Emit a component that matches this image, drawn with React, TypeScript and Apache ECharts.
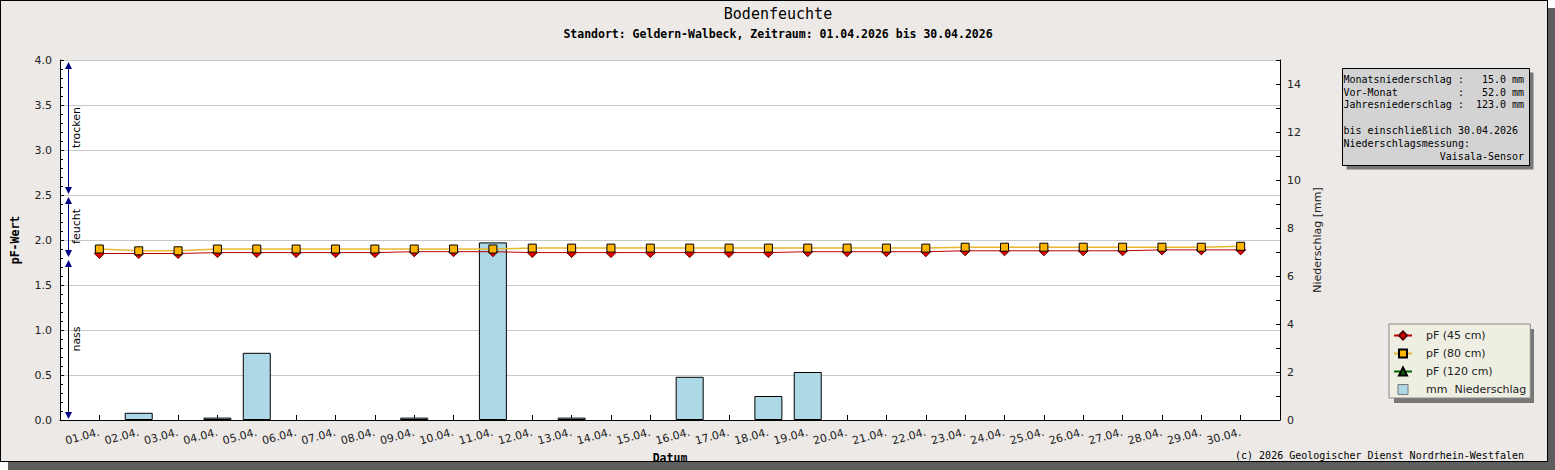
import React, { useEffect, useRef } from "react";
import * as echarts from "echarts";

const dates = [
  "01.04.", "02.04.", "03.04.", "04.04.", "05.04.", "06.04.", "07.04.", "08.04.", "09.04.", "10.04.",
  "11.04.", "12.04.", "13.04.", "14.04.", "15.04.", "16.04.", "17.04.", "18.04.", "19.04.", "20.04.",
  "21.04.", "22.04.", "23.04.", "24.04.", "25.04.", "26.04.", "27.04.", "28.04.", "29.04.", "30.04.",
];
const pf45 = [
  1.85, 1.85, 1.85, 1.86, 1.86, 1.86, 1.86, 1.86, 1.87, 1.87,
  1.87, 1.86, 1.86, 1.86, 1.86, 1.86, 1.86, 1.86, 1.87, 1.87,
  1.87, 1.87, 1.88, 1.88, 1.88, 1.88, 1.88, 1.89, 1.89, 1.89,
];
const pf80 = [
  1.9, 1.88, 1.88, 1.9, 1.9, 1.9, 1.9, 1.9, 1.9, 1.9,
  1.9, 1.91, 1.91, 1.91, 1.91, 1.91, 1.91, 1.91, 1.91, 1.91,
  1.91, 1.91, 1.92, 1.92, 1.92, 1.92, 1.92, 1.92, 1.92, 1.93,
];
const pf120: number[] = [];
const precip = [
  0, 0.3, 0, 0.1, 2.8, 0, 0, 0, 0.1, 0,
  7.4, 0, 0.1, 0, 0, 1.8, 0, 1.0, 2.0, 0,
  0, 0, 0, 0, 0, 0, 0, 0, 0, 0,
];
const pfTicks = { min: 0, max: 4, interval: 0.5 };
const mmTicks = { min: 0, max: 15, interval: 1 };
const zones = [
  { name: "trocken", from: 4.0, to: 2.5, line: "#000080" },
  { name: "feucht", from: 2.5, to: 1.8, line: "#000080" },
  { name: "nass", from: 1.8, to: 0, line: "#000000" },
];
const monatsNiederschlag = 15.0;
const vorMonat = 52.0;
const jahresNiederschlag = 123.0;
const bisDatum = "30.04.2026";
const title = "Bodenfeuchte";
const subtitle = "Standort: Geldern-Walbeck, Zeitraum: 01.04.2026 bis 30.04.2026";
const copyright = "(c) 2026 Geologischer Dienst Nordrhein-Westfalen";

const MONO = '"DejaVu Sans Mono", "Liberation Mono", monospace';
const SANS = '"DejaVu Sans", sans-serif';

export default function App() {
  const ref = useRef<HTMLDivElement>(null);
  useEffect(() => {
    document.body.style.margin = "0";
    const chart = echarts.init(ref.current!, null, { renderer: "svg" });
    const cats = ["", ...dates, ""];
    const pad = (a: (number | null)[]) => [null, ...a, null];
    const option: any = {
      animation: false,
      backgroundColor: "transparent",
      title: [
        {
          text: title, left: 778, top: 6, textAlign: "center", padding: 0,
          textStyle: { fontFamily: MONO, fontSize: 15, fontWeight: "normal", color: "#000" },
        },
        {
          text: subtitle, left: 778, top: 28, textAlign: "center", padding: 0,
          textStyle: { fontFamily: MONO, fontSize: 11.5, fontWeight: "bold", color: "#000" },
        },
      ],
      grid: {
        left: 60, top: 60, width: 1220, height: 360, show: true,
        backgroundColor: "#ffffff", borderWidth: 0, containLabel: false,
      },
      legend: {
        orient: "vertical", left: 1389, top: 324, z: 10,
        backgroundColor: "#eeeee2", borderColor: "#8a8a8a", borderWidth: 1,
        padding: [6, 4, 3, 4], itemWidth: 18, itemHeight: 10, itemGap: 7,
        selectedMode: false,
        textStyle: { fontFamily: SANS, fontSize: 11, color: "#222", padding: [0, 0, 0, 9] },
        data: [
          "pF (45 cm)", "pF (80 cm)", "pF (120 cm)",
          {
            name: "mm  Niederschlag", icon: "path://M0 0H10V10H0Z",
            itemStyle: { color: "#add8e6", borderColor: "#777", borderWidth: 1 },
          },
        ],
      },
      xAxis: {
        type: "category", data: cats, boundaryGap: false,
        name: "Datum", nameLocation: "middle", nameGap: 31,
        nameTextStyle: { fontFamily: MONO, fontSize: 11.5, fontWeight: "bold", color: "#000" },
        axisLine: { lineStyle: { color: "#000", width: 1 } },
        axisTick: { inside: true, length: 5, interval: 0, lineStyle: { color: "#000" } },
        axisLabel: { interval: 0, rotate: 15, margin: 12, fontFamily: SANS, fontSize: 11, color: "#222" },
        splitLine: { show: false },
      },
      yAxis: [
        {
          type: "value", position: "left", ...pfTicks,
          name: "pF-Wert", nameLocation: "middle", nameGap: 39, nameRotate: 90,
          nameTextStyle: { fontFamily: MONO, fontSize: 11.5, fontWeight: "bold", color: "#000" },
          axisLine: { show: true, lineStyle: { color: "#000", width: 1 } },
          axisTick: { show: true, inside: true, length: 4, lineStyle: { color: "#000" } },
          minorTick: { show: true, splitNumber: 5, length: 3, lineStyle: { color: "#000" } },
          axisLabel: { margin: 8, fontFamily: SANS, fontSize: 11, color: "#222", formatter: (v: number) => v.toFixed(1) },
          splitLine: { show: true, lineStyle: { color: "#c8c8c8", width: 1 } },
        },
        {
          type: "value", position: "right", ...mmTicks,
          name: "Niederschlag [mm]", nameLocation: "middle", nameGap: 30, nameRotate: 90,
          nameTextStyle: { fontFamily: SANS, fontSize: 11, color: "#222" },
          axisLine: { show: true, lineStyle: { color: "#000", width: 1 } },
          axisTick: { show: true, inside: true, length: 4, lineStyle: { color: "#000" } },
          axisLabel: {
            margin: 7, fontFamily: SANS, fontSize: 11, color: "#222",
            formatter: (v: number) => (v % 2 === 0 && v < 15 ? String(v) : ""),
          },
          splitLine: { show: false },
        },
      ],
      series: [
        {
          name: "mm  Niederschlag", type: "bar", yAxisIndex: 1,
          data: pad(precip.map((v) => (v > 0 ? v : null))), barWidth: 28, z: 1,
          itemStyle: { color: "#add8e6", borderColor: "#000", borderWidth: 1 },
        },
        {
          name: "pF (45 cm)", type: "line", data: pad(pf45), symbol: "diamond", symbolSize: 10, z: 3,
          itemStyle: { color: "#e60000", borderColor: "#5a0000", borderWidth: 1 },
          lineStyle: { color: "#c00000", width: 1 },
        },
        {
          name: "pF (80 cm)", type: "line", data: pad(pf80), symbol: "rect", symbolSize: 8, z: 4,
          itemStyle: { color: "#ffb400", borderColor: "#000", borderWidth: 1 },
          lineStyle: { color: "#e8b830", width: 1.5 },
        },
        {
          name: "pF (120 cm)", type: "line", data: pad(pf120), symbol: "triangle", symbolSize: 9, z: 4,
          itemStyle: { color: "#006400", borderColor: "#000", borderWidth: 1 },
          lineStyle: { color: "#006400", width: 1 },
        },
      ],
    };
    chart.setOption(option);

    const py = (v: number) => chart.convertToPixel({ yAxisIndex: 0 }, v) as number;
    const x0 = (chart.convertToPixel({ xAxisIndex: 0 }, 0) as number) + 8.5;
    const g: any[] = [];
    zones.forEach((z) => {
      const yA = py(z.from) + 2;
      const yB = py(z.to) - 1;
      g.push({ type: "line", shape: { x1: x0, y1: yA + 3, x2: x0, y2: yB - 3 }, style: { stroke: z.line, lineWidth: 1 }, z: 20 });
      g.push({ type: "polygon", shape: { points: [[x0, yA], [x0 - 3.5, yA + 7], [x0 + 3.5, yA + 7]] }, style: { fill: "#000080" }, z: 21 });
      g.push({ type: "polygon", shape: { points: [[x0, yB], [x0 - 3.5, yB - 7], [x0 + 3.5, yB - 7]] }, style: { fill: "#000080" }, z: 21 });
      g.push({
        type: "text", x: x0 + 8, y: (py(z.from) + py(z.to)) / 2, rotation: Math.PI / 2, z: 21,
        style: { text: z.name, textAlign: "center", textVerticalAlign: "middle", fontFamily: SANS, fontSize: 11, fill: "#000" },
      });
    });
    // info box
    const bx = 1342.5, by = 68.5, bw = 187, bh = 97;
    g.push({ type: "rect", shape: { x: bx + 4, y: by + 4, width: bw, height: bh }, style: { fill: "#777" }, z: 1 });
    g.push({ type: "rect", shape: { x: bx, y: by, width: bw, height: bh }, style: { fill: "#d3d3d3", stroke: "#000", lineWidth: 1 }, z: 2 });
    const cw = 6.02;
    const tx = 1343.5;
    const mono = (text: string, x: number, y: number, align = "left") => ({
      type: "text", x, y, z: 3,
      style: { text, textAlign: align, textVerticalAlign: "middle", fontFamily: MONO, fontSize: 10, fill: "#000" },
    });
    const rows = [
      { label: "Monatsniederschlag", val: monatsNiederschlag, y: 79.5 },
      { label: "Vor-Monat", val: vorMonat, y: 92 },
      { label: "Jahresniederschlag", val: jahresNiederschlag, y: 104.5 },
    ];
    rows.forEach((r) => {
      g.push(mono(r.label, tx, r.y));
      g.push(mono(":", tx + 19 * cw, r.y));
      g.push(mono(r.val.toFixed(1) + " mm", tx + 30 * cw, r.y, "right"));
    });
    g.push(mono("bis einschließlich " + bisDatum, tx, 130.5));
    g.push(mono("Niederschlagsmessung:", tx, 143.5));
    g.push(mono("Vaisala-Sensor", tx + 30 * cw, 156.5, "right"));
    // legend shadow
    g.push({ type: "rect", shape: { x: 1394, y: 329, width: 140, height: 74 }, style: { fill: "#777" }, z: 0 });
    // copyright
    g.push(mono(copyright, 1524, 455, "right"));
    chart.setOption({ graphic: { elements: g } });

    return () => chart.dispose();
  }, []);
  return (
    <div style={{ position: "relative", width: 1555, height: 470, background: "#fff" }}>
      <div
        style={{
          position: "absolute", left: 0, top: 0, width: 1546, height: 460,
          background: "#ece9e7", border: "1px solid #000", boxShadow: "8px 8px 0 0 #5e5e5e",
        }}
      />
      <div ref={ref} style={{ position: "absolute", left: 0, top: 0, width: 1555, height: 470 }} />
    </div>
  );
}
